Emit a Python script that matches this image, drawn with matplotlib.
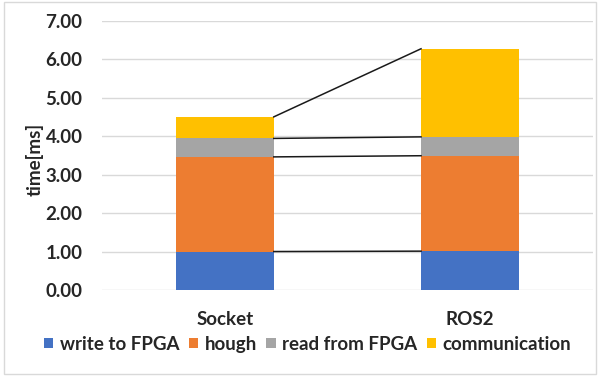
import numpy as np
import matplotlib.pyplot as plt
from matplotlib.patches import Rectangle

# processing time breakdown per transport
categories = ["Socket", "ROS2"]
series_names = ["write to FPGA", "hough", "read from FPGA", "communication"]
write_fpga = [1.00, 1.01]
hough = [2.46, 2.48]
read_fpga = [0.48, 0.49]
communication = [0.56, 2.29]
colors = ["#4472C4", "#ED7D31", "#A5A5A5", "#FFC000"]
yticks = [0, 1, 2, 3, 4, 5, 6, 7]

plt.rcParams['font.family'] = ['Lato', 'DejaVu Sans']
text_color = "#262626"
fs = 13.5

fig = plt.figure(figsize=(6.0, 3.76), dpi=100)
ax = fig.add_axes([0.17, 0.2287, 0.818, 0.7163])

x = np.arange(len(categories))
width = 0.4
bottom = np.zeros(len(categories))
tops = []
for name, vals, col in zip(series_names, [write_fpga, hough, read_fpga, communication], colors):
    vals = np.array(vals)
    ax.bar(x, vals, width, bottom=bottom, color=col, label=name, zorder=3)
    bottom = bottom + vals
    tops.append(bottom.copy())

# series lines joining the segment tops between the two stacks
for t in tops:
    ax.plot([x[0] + width / 2, x[1] - width / 2], [t[0], t[1]],
            color="#1a1a1a", lw=1.1, zorder=4)

ax.set_xlim(-0.5, 1.5)
ax.set_ylim(0, 7)
ax.set_yticks(yticks)
ax.set_yticklabels([f"{v:.2f}" for v in yticks])
ax.set_xticks(x)
ax.set_xticklabels(categories)
ax.grid(axis='y', color="#d9d9d9", lw=1.0, zorder=0)
ax.set_axisbelow(True)
for s in ax.spines.values():
    s.set_visible(False)
ax.tick_params(axis='both', length=0, labelsize=fs, colors=text_color)
ax.tick_params(axis='y', pad=14)
ax.tick_params(axis='x', pad=15)
for lbl in ax.get_xticklabels() + ax.get_yticklabels():
    lbl.set_fontweight('bold')

fig.text(0.058, 0.575, "time[ms]", rotation=90, ha='center', va='center',
         fontsize=fs, fontweight='bold', color=text_color)

leg = fig.legend(loc='center', bbox_to_anchor=(0.513, 0.085), ncol=4, frameon=False,
                 handlelength=0.5, handleheight=0.5, handletextpad=0.35,
                 columnspacing=0.5, prop={'size': fs, 'weight': 'bold'})
for t in leg.get_texts():
    t.set_color(text_color)

fig.patches.append(Rectangle((0.006, 0.006), 0.988, 0.988, transform=fig.transFigure,
                             fill=False, edgecolor="#d9d9d9", lw=1.0))

fig.savefig("out.png", dpi=100)
